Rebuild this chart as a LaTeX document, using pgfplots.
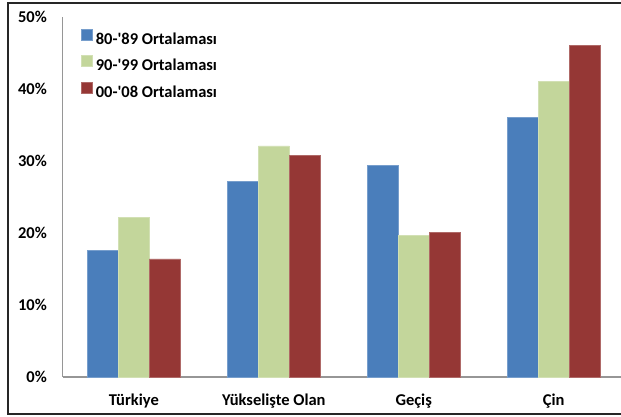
\documentclass[border=0pt]{standalone}
\usepackage{pgfplots}
\pgfplotsset{compat=1.18}
\usepackage{pgfplotstable}
\usepackage{fontspec}
\setmainfont{Carlito}
\definecolor{cblue}{HTML}{4A7EBB}
\definecolor{cgreen}{HTML}{C3D69B}
\definecolor{cred}{HTML}{953735}
\definecolor{axisgray}{RGB}{150,150,150}
\pgfplotstableread{
x y
0 17.6
1 27.2
2 29.4
3 36.0
}\seriesA
\pgfplotstableread{
x y
0 22.2
1 32.1
2 19.7
3 41.0
}\seriesB
\pgfplotstableread{
x y
0 16.4
1 30.8
2 20.1
3 46.0
}\seriesC
\newcommand{\lblfont}{\bfseries\fontsize{16.5}{19}\selectfont}
\begin{document}
\begin{tikzpicture}[x=1pt,y=1pt]
\useasboundingbox (0,0) rectangle (621,417);
\draw[line width=1.3pt, black!85] (8,3) rectangle (640,414);
\begin{axis}[
  at={(62.5pt,40pt)}, anchor=south west,
  scale only axis, width=562.5pt, height=360pt,
  xmin=-0.51, xmax=3.51, ymin=0, ymax=50,
  ybar=0pt, bar width=31pt,
  axis x line*=bottom, axis y line*=left,
  axis line style={draw=axisgray, line width=1.2pt, -},
  major tick length=0pt,
  xtick={0,1,2,3},
  xticklabels={Türkiye, Yükselişte Olan, Geçiş, Çin},
  ytick={0,10,20,30,40,50},
  yticklabels={0\%,10\%,20\%,30\%,40\%,50\%},
  every tick label/.append style={font=\lblfont},
  yticklabel style={anchor=east, inner sep=0pt, xshift=-15.5pt},
  xticklabel style={anchor=base, inner sep=0pt, yshift=-29pt},
  legend cell align=left,
  legend image code/.code={\fill[#1] (0pt,0pt) rectangle (11pt,11pt);},
  legend style={at={(0.0329,0.9667)}, anchor=north west, draw=none, fill=none,
    inner sep=0pt, row sep=7pt, column sep=3pt, font=\lblfont,
    nodes={inner sep=0pt, text height=12pt, text depth=4pt}},
  clip=false,
]
\addplot[fill=cblue, draw=cblue!75!white, line width=0.6pt] table[x=x,y=y]{\seriesA};
\addplot[fill=cgreen, draw=cgreen!75!white, line width=0.6pt] table[x=x,y=y]{\seriesB};
\addplot[fill=cred, draw=cred!75!white, line width=0.6pt] table[x=x,y=y]{\seriesC};
\legend{80-\textquotesingle 89 Ortalaması, 90-\textquotesingle 99 Ortalaması, 00-\textquotesingle 08 Ortalaması}
\end{axis}
\end{tikzpicture}
\end{document}
